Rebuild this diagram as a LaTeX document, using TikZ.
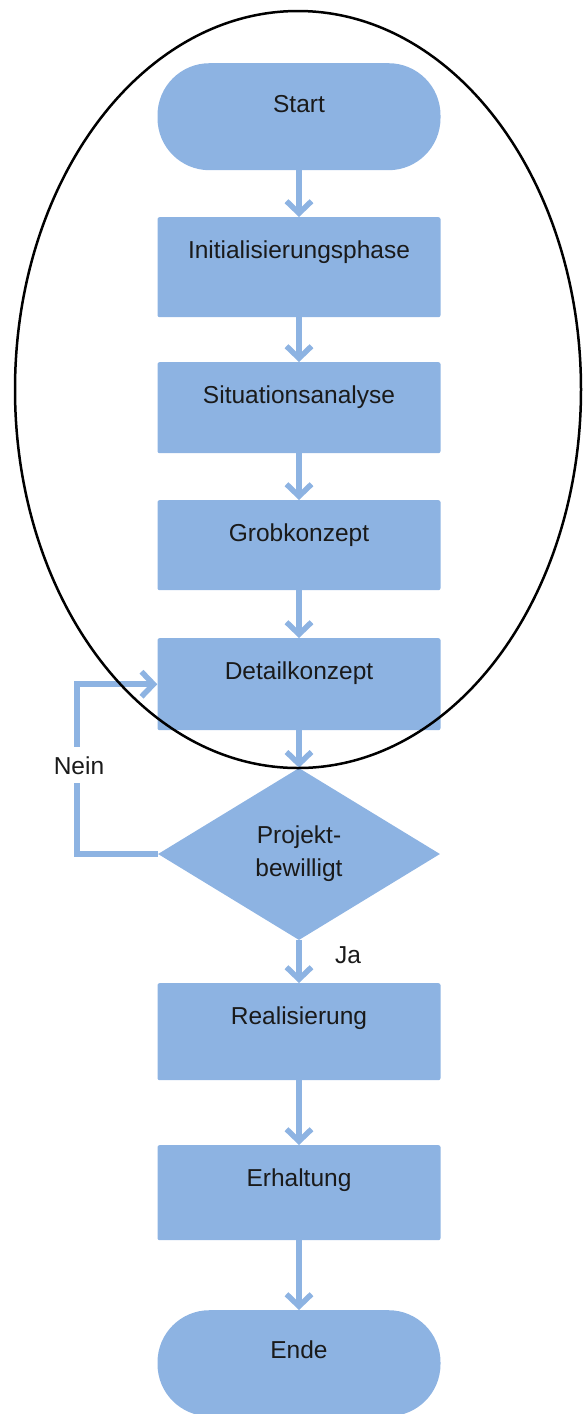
\documentclass[tikz,border=0pt]{standalone}
\usepackage{fontspec}
\setmainfont{Liberation Sans}
\usetikzlibrary{arrows.meta,shapes.geometric}
\definecolor{fuellung}{HTML}{8DB3E2}
\definecolor{schrift}{HTML}{1A1A1A}

\def\mx{299}

\begin{document}
\begin{tikzpicture}[x=1pt,y=-1pt,
	font=\fontsize{24.5}{33}\selectfont,text=schrift,
	phase/.style={rectangle,rounded corners=2pt,fill=fuellung,
		minimum width=283pt,inner sep=0pt,anchor=north,
		text height=41pt,text depth=#1},
	terminal/.style={rectangle,rounded corners=52pt,fill=fuellung,
		minimum width=283pt,inner sep=0pt,anchor=north,
		text height=#1,text depth=58pt},
	entscheidung/.style={diamond,fill=fuellung,aspect=1.64,
		minimum width=282pt,minimum height=172pt,inner sep=0pt,align=center},
	pfeil/.style={draw=fuellung,line width=5.5pt,
		-{Straight Barb[length=12pt,width=25pt]}},
	marke/.style={anchor=base,inner sep=0pt}]
\useasboundingbox (0,0) rectangle (583,1414);

\node[terminal=49pt] (start) at (\mx,63) {Start};
\node[phase=59pt] (init) at (\mx,217) {Initialisierungsphase};
\node[phase=50pt] (situ) at (\mx,362) {Situationsanalyse};
\node[phase=49pt] (grob) at (\mx,500) {Grobkonzept};
\node[phase=51pt] (detail) at (\mx,638) {Detailkonzept};
\node[entscheidung] (frage) at (\mx,854) {Projekt-\\bewilligt};
\node[phase=56pt] (real) at (\mx,983) {Realisierung};
\node[phase=54pt] (erhalt) at (\mx,1145) {Erhaltung};
\node[terminal=48pt] (ende) at (\mx,1310) {Ende};

\draw[pfeil] (start) -- (init);
\draw[pfeil] (init) -- (situ);
\draw[pfeil] (situ) -- (grob);
\draw[pfeil] (grob) -- (detail);
\draw[pfeil] (detail) -- (frage);
\draw[pfeil] (frage) -- (real);
\draw[pfeil] (real) -- (erhalt);
\draw[pfeil] (erhalt) -- (ende);

\draw[pfeil] (frage.west) -- ++(-81,0) |- (detail.west);
\node[marke,fill=white,inner xsep=3pt,inner ysep=9pt] (nein) at (79,774) {Nein};
\node[marke] (ja) at (348,963) {Ja};

\draw[line width=2.5pt] (298,389.5) ellipse [x radius=283pt,y radius=378.5pt];
\end{tikzpicture}
\end{document}
